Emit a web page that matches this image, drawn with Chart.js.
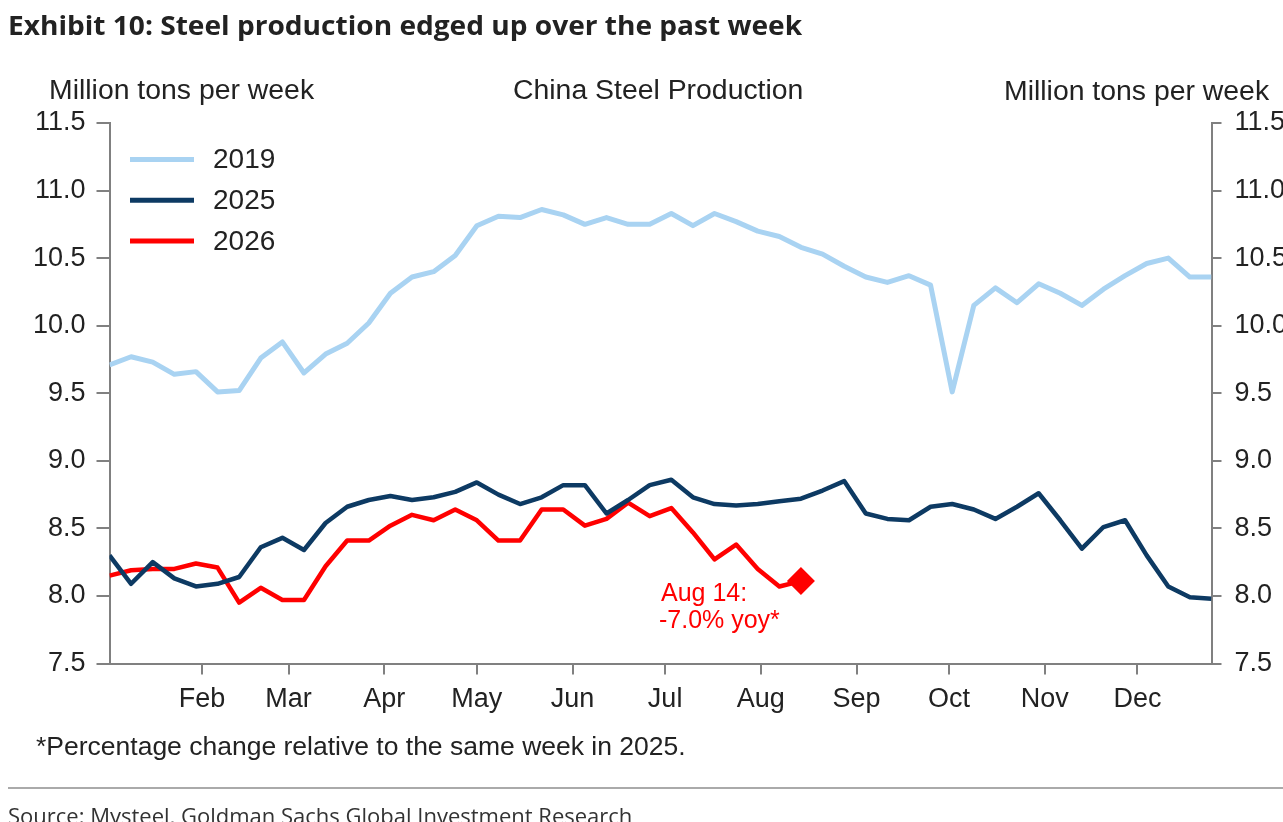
<!DOCTYPE html>
<html>
<head>
<meta charset="utf-8">
<script src="https://cdn.jsdelivr.net/npm/chart.js@4/dist/chart.umd.min.js"></script>
<style>
html,body{margin:0;padding:0;background:#fff;width:1283px;height:822px;overflow:hidden;position:relative}
#c{position:absolute;left:0;top:0}
.t{position:absolute;white-space:nowrap;line-height:1}
#title{left:8px;top:6px;font:700 27px "Open Sans";color:#222;transform-origin:0 0;transform:scaleX(1.04)}
.ax{font:28.4px "Liberation Sans";color:#222}
#lt{left:49px;top:73px}
#rt{left:1004px;top:74px}
#ct{left:513px;top:73px}
#foot{left:36px;top:731px;font:26.5px "Liberation Sans";color:#222}
#rule{position:absolute;left:8px;top:787px;width:1275px;height:2px;background:#aaa}
#src{left:8px;top:800px;font:22px "Open Sans";color:#333}
</style>
</head>
<body>
<canvas id="c" width="1283" height="822"></canvas>
<div class="t" id="title">Exhibit 10: Steel production edged up over the past week</div>
<div class="t ax" id="lt">Million tons per week</div>
<div class="t ax" id="ct">China Steel Production</div>
<div class="t ax" id="rt">Million tons per week</div>
<div class="t" id="foot">*Percentage change relative to the same week in 2025.</div>
<div id="rule"></div>
<div class="t" id="src">Source: Mysteel, Goldman Sachs Global Investment Research</div>
<script>
// ---- data ----
const seriesNames = ['2019', '2025', '2026'];
const monthStarts = [31, 59, 90, 120, 151, 181, 212, 243, 273, 304, 334];
const monthLabels = ['Feb', 'Mar', 'Apr', 'May', 'Jun', 'Jul', 'Aug', 'Sep', 'Oct', 'Nov', 'Dec'];
const firstWeekDay = 1;
const daysPerWeek = 7;
const v2019 = [9.71, 9.77, 9.73, 9.64, 9.66, 9.51, 9.52, 9.76, 9.88, 9.65,
  9.79, 9.87, 10.02, 10.24, 10.36, 10.40, 10.52, 10.74, 10.81, 10.80,
  10.86, 10.82, 10.75, 10.80, 10.75, 10.75, 10.83, 10.74, 10.83, 10.77,
  10.70, 10.66, 10.58, 10.53, 10.44, 10.36, 10.32, 10.37, 10.30, 9.51,
  10.15, 10.28, 10.17, 10.31, 10.24, 10.15, 10.27, 10.37, 10.46, 10.50,
  10.36, 10.36];
const v2025 = [8.30, 8.09, 8.25, 8.13, 8.07, 8.09, 8.14, 8.36, 8.43, 8.34,
  8.54, 8.66, 8.71, 8.74, 8.71, 8.73, 8.77, 8.84, 8.75, 8.68,
  8.73, 8.82, 8.82, 8.61, 8.71, 8.82, 8.86, 8.73, 8.68, 8.67,
  8.68, 8.70, 8.72, 8.78, 8.85, 8.61, 8.57, 8.56, 8.66, 8.68,
  8.64, 8.57, 8.66, 8.76, 8.56, 8.35, 8.51, 8.56, 8.30, 8.07,
  7.99, 7.98];
const v2026 = [8.15, 8.19, 8.20, 8.20, 8.24, 8.21, 7.95, 8.06, 7.97, 7.97,
  8.22, 8.41, 8.41, 8.52, 8.60, 8.56, 8.64, 8.56, 8.41, 8.41,
  8.64, 8.64, 8.52, 8.57, 8.69, 8.59, 8.65, 8.47, 8.27, 8.38,
  8.20, 8.07, 8.11];
const yMin = 7.5, yMax = 11.5, yStep = 0.5;
const annotationLines = ['Aug 14:', '-7.0% yoy*'];

// ---- chart ----
const toPts = arr => arr.map((y, i) => ({x: firstWeekDay + daysPerWeek * i, y}));
const colors = ['#a9d3f2', '#0d3a63', '#ff0000'];
const widths = [5, 4.5, 4.5];
const FONT = 'Liberation Sans';
Chart.defaults.font.family = FONT;

const overlay = {
  id: 'overlay',
  afterDraw(chart) {
    const ctx = chart.ctx;
    ctx.save();
    chart.data.datasets.forEach((ds, k) => {
      const y = 159.5 + k * 40.7;
      ctx.strokeStyle = ds.borderColor;
      ctx.lineWidth = 5;
      ctx.beginPath(); ctx.moveTo(130, y); ctx.lineTo(194, y); ctx.stroke();
      ctx.fillStyle = '#222';
      ctx.font = '28px ' + FONT;
      ctx.textBaseline = 'middle';
      ctx.textAlign = 'left';
      ctx.fillText(ds.label, 213, y + 1);
    });
    const meta = chart.getDatasetMeta(2);
    const last = meta.data[meta.data.length - 1];
    ctx.fillStyle = '#ff0000';
    ctx.font = '25px ' + FONT;
    ctx.textBaseline = 'middle';
    ctx.textAlign = 'left';
    ctx.fillText(annotationLines[0], last.x - 140, last.y + 13);
    ctx.fillText(annotationLines[1], last.x - 142, last.y + 40);
    ctx.restore();
  }
};

const yAxis = (pos, tl, pad, w) => ({
  type: 'linear', position: pos, min: yMin, max: yMax,
  ticks: {stepSize: yStep, callback: v => Number(v).toFixed(1), font: {size: 27}, color: '#222', padding: pad},
  grid: {drawOnChartArea: false, drawTicks: true, tickLength: tl, color: '#808080', lineWidth: 2},
  border: {display: true, color: '#808080', width: 2},
  afterFit: s => { s.width = w; }
});

new Chart(document.getElementById('c'), {
  type: 'line',
  data: {
    datasets: [v2019, v2025, v2026].map((arr, k) => ({
      label: seriesNames[k],
      data: toPts(arr),
      borderColor: colors[k],
      backgroundColor: colors[k],
      borderWidth: widths[k],
      borderJoinStyle: 'round',
      tension: 0,
      pointStyle: 'rectRot',
      pointRadius: k === 2 ? (c => c.dataIndex === arr.length - 1 ? 14 : 0) : 0,
      pointBorderWidth: 0,
      pointBackgroundColor: colors[k],
      yAxisID: 'y'
    }))
  },
  options: {
    responsive: false,
    animation: false,
    events: [],
    layout: {padding: {top: 123, left: 0, right: 0, bottom: 0}},
    plugins: {legend: {display: false}, tooltip: {enabled: false}},
    scales: {
      x: {
        type: 'linear', position: 'bottom', min: firstWeekDay, max: firstWeekDay + daysPerWeek * (v2019.length - 1),
        afterBuildTicks: s => { s.ticks = monthStarts.map(v => ({value: v})); },
        ticks: {callback: (v, i) => monthLabels[i], font: {size: 27}, color: '#222', padding: 9, maxRotation: 0, autoSkip: false},
        grid: {drawOnChartArea: false, drawTicks: true, tickLength: 11, color: '#808080', lineWidth: 2},
        border: {display: true, color: '#808080', width: 2},
        afterFit: s => { s.height = 822 - 663.5; }
      },
      y: yAxis('left', 13, 11, 109.5),
      y2: yAxis('right', 10, 13, 71.5)
    }
  },
  plugins: [overlay]
});
</script>
</body>
</html>
